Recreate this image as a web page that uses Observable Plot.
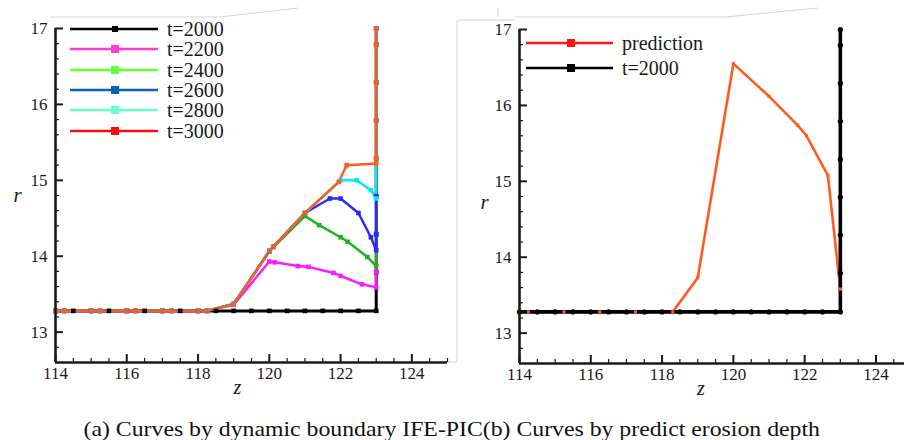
<!DOCTYPE html>
<html><head><meta charset="utf-8">
<script src="https://cdn.jsdelivr.net/npm/d3@7"></script>
<script src="https://cdn.jsdelivr.net/npm/@observablehq/plot@0.6"></script>
<style>
body{margin:0;background:#fff;}
#wrap{position:relative;width:904px;height:440px;overflow:hidden;background:#fff;font-family:"Liberation Serif","Times New Roman",serif;}
.panel{position:absolute;top:0;}
#leg{position:absolute;left:0;top:0;pointer-events:none;}
#caption{position:absolute;left:0;width:904px;top:418px;text-align:center;font-size:22px;color:#111;line-height:1;white-space:nowrap;transform:scaleX(1.08);transform-origin:455px 0;}
</style></head><body>
<div id="wrap">
<svg id="frame" width="904" height="440" style="position:absolute;left:0;top:0"></svg>
<div id="left" class="panel" style="left:0px"></div>
<div id="right" class="panel" style="left:464px"></div>
<svg id="leg" width="904" height="440"></svg>
<div id="caption">(a) Curves by dynamic boundary IFE-PIC(b) Curves by predict erosion depth</div>
</div>
<script>
// ---------- data ----------
const xMajor = [114, 116, 118, 120, 122, 124];
const xMinor = [114.5, 115, 115.5, 116.5, 117, 117.5, 118.5, 119, 119.5, 120.5, 121, 121.5, 122.5, 123, 123.5, 124.5, 125];
const yMajor = [13, 14, 15, 16, 17];
const yMinor = [12.8, 13.2, 13.4, 13.6, 13.8, 14.2, 14.4, 14.6, 14.8, 15.2, 15.4, 15.6, 15.8, 16.2, 16.4, 16.6, 16.8];

const t2000Z = [114, 114.5, 115, 115.5, 116, 116.5, 117, 117.5, 118, 118.5, 119, 119.5, 120, 120.5, 121, 121.5, 122, 122.5, 123, 123, 123, 123, 123, 123, 123, 123, 123];
const t2000R = [13.28, 13.28, 13.28, 13.28, 13.28, 13.28, 13.28, 13.28, 13.28, 13.28, 13.28, 13.28, 13.28, 13.28, 13.28, 13.28, 13.28, 13.28, 13.28, 13.79, 14.29, 14.79, 15.29, 15.79, 16.29, 16.79, 17.0];

const t2200Z = [114, 114.25, 115, 115.25, 116, 116.25, 117, 117.25, 118, 118.25, 119, 120, 120.15, 120.8, 121.1, 121.8, 122, 122.6, 123, 123, 123, 123, 123, 123, 123, 123, 123];
const t2200R = [13.28, 13.28, 13.28, 13.28, 13.28, 13.28, 13.28, 13.28, 13.28, 13.28, 13.36, 13.93, 13.92, 13.87, 13.86, 13.78, 13.74, 13.63, 13.59, 13.79, 14.29, 14.79, 15.29, 15.79, 16.29, 16.79, 17.0];

const t2400Z = [114, 114.25, 115, 115.25, 116, 116.25, 117, 117.25, 118, 118.25, 119, 120, 120.12, 121, 121.4, 122, 122.2, 122.75, 123, 123, 123, 123, 123, 123, 123, 123];
const t2400R = [13.28, 13.28, 13.28, 13.28, 13.28, 13.28, 13.28, 13.28, 13.28, 13.28, 13.37, 14.06, 14.12, 14.53, 14.41, 14.25, 14.19, 13.99, 13.87, 14.29, 14.79, 15.29, 15.79, 16.29, 16.79, 17.0];

const t2600Z = [114, 114.25, 115, 115.25, 116, 116.25, 117, 117.25, 118, 118.25, 119, 120, 120.12, 121, 121.7, 122, 122.5, 122.85, 123, 123, 123, 123, 123, 123, 123, 123];
const t2600R = [13.28, 13.28, 13.28, 13.28, 13.28, 13.28, 13.28, 13.28, 13.28, 13.28, 13.37, 14.07, 14.13, 14.57, 14.76, 14.76, 14.57, 14.25, 14.08, 14.29, 14.79, 15.29, 15.79, 16.29, 16.79, 17.0];

const t2800Z = [114, 114.25, 115, 115.25, 116, 116.25, 117, 117.25, 118, 118.25, 119, 120, 120.12, 121, 122, 122.45, 122.85, 123, 123, 123, 123, 123, 123];
const t2800R = [13.28, 13.28, 13.28, 13.28, 13.28, 13.28, 13.28, 13.28, 13.28, 13.28, 13.37, 14.07, 14.13, 14.57, 15.0, 15.0, 14.87, 14.76, 15.29, 15.79, 16.29, 16.79, 17.0];

const t3000Z = [114, 114.25, 115, 115.25, 116, 116.25, 117, 117.25, 118, 118.25, 119, 120, 120.12, 121, 121.95, 122.17, 123, 123, 123, 123, 123, 123];
const t3000R = [13.28, 13.28, 13.28, 13.28, 13.28, 13.28, 13.28, 13.28, 13.28, 13.28, 13.37, 14.07, 14.13, 14.57, 14.98, 15.2, 15.22, 15.29, 15.79, 16.29, 16.79, 17.0];

const predZ = [114, 114.25, 115.25, 116.25, 117.25, 118.3, 119, 120, 121, 121.8, 122.05, 122.65, 123];
const predR = [13.28, 13.28, 13.28, 13.28, 13.28, 13.28, 13.73, 16.55, 16.12, 15.74, 15.6, 15.08, 13.58];

const leftLabels = ["t=2000", "t=2200", "t=2400", "t=2600", "t=2800", "t=3000"];
const leftLineColors = ["#000000", "#ff1aff", "#1fb31f", "#2a2aff", "#00ecf5", "#ff5a1f"];
const leftLegendColors = ["#000000", "#ff3ccf", "#66ff33", "#0a62b4", "#66ffcc", "#ff0a0a"];
const rightLabels = ["prediction", "t=2000"];
const rightLineColors = ["#ff5a1f", "#000000"];
const rightLegendColors = ["#ff1414", "#000000"];

// ---------- build ----------
const toRows = (Z, R) => Z.map((z, i) => ({z, r: R[i]}));
const leftSeries = [[t2000Z, t2000R], [t2200Z, t2200R], [t2400Z, t2400R], [t2600Z, t2600R], [t2800Z, t2800R], [t3000Z, t3000R]].map(([Z, R]) => toRows(Z, R));
const predRows = toRows(predZ, predR);
const blackRows = toRows(t2000Z, t2000R);

const FONT = '"Liberation Serif","Times New Roman",serif';
const INK = "#1a1a1a";

function axisMarks(fw, fh, zx, zy, rx, ry) {
  return [
    Plot.axisX({ticks: xMajor, tickSize: 0, tickPadding: 4, label: null, fontSize: 17, tickFormat: d => String(d)}),
    Plot.axisY({ticks: yMajor, tickSize: 0, tickPadding: 8, label: null, fontSize: 17, tickFormat: d => String(d)}),
    Plot.tickX(xMajor, {x: d => d, insetTop: fh - 8, stroke: INK, strokeWidth: 2}),
    Plot.tickX(xMinor, {x: d => d, insetTop: fh - 4, stroke: INK, strokeWidth: 1.2}),
    Plot.tickY(yMajor, {y: d => d, insetRight: fw - 8, stroke: INK, strokeWidth: 2}),
    Plot.tickY(yMinor, {y: d => d, insetRight: fw - 4, stroke: INK, strokeWidth: 1.2}),
    Plot.text(["z"], {text: d => d, frameAnchor: "bottom", dx: zx, dy: zy, fontStyle: "italic", fontSize: 20, fill: INK}),
    Plot.text(["r"], {text: d => d, frameAnchor: "left", dx: rx, dy: ry, fontStyle: "italic", fontSize: 21, fill: INK})
  ];
}

// Left panel
{
  const W = 452, H = 400, mL = 55, mR = 5, mT = 28, mB = 38;
  const fw = W - mL - mR, fh = H - mT - mB;
  const marks = [];
  leftSeries.forEach((rows, i) => marks.push(Plot.line(rows, {x: "z", y: "r", stroke: leftLineColors[i], strokeWidth: i === 0 ? 3 : 2.5, strokeLinejoin: "miter"})));
  leftSeries.forEach((rows, i) => marks.push(Plot.dot(rows, {x: "z", y: "r", symbol: "square", r: 2.6, fill: leftLineColors[i], stroke: "none"})));
  marks.push(Plot.ruleY([12.6], {stroke: INK, strokeWidth: 2.6}));
  marks.push(Plot.ruleX([114], {stroke: INK, strokeWidth: 2.6}));
  marks.push(...axisMarks(fw, fh, -14, 31, -42, 0));
  const chart = Plot.plot({
    width: W, height: H, marginLeft: mL, marginRight: mR, marginTop: mT, marginBottom: mB,
    x: {domain: [114, 125]}, y: {domain: [12.6, 17]},
    style: {fontFamily: FONT, fontSize: "17px", color: INK, background: "transparent", overflow: "visible"},
    marks
  });
  document.getElementById("left").appendChild(chart);
}

// Right panel
{
  const W = 440, H = 400, mL = 55, mR = 0, mT = 29, mB = 37;
  const fw = W - mL - mR, fh = H - mT - mB;
  const marks = [
    Plot.line(predRows, {x: "z", y: "r", stroke: rightLineColors[0], strokeWidth: 2.6, strokeLinejoin: "miter"}),
    Plot.line(blackRows, {x: "z", y: "r", stroke: rightLineColors[1], strokeWidth: 3.6}),
    Plot.dot(predRows, {x: "z", y: "r", symbol: "square", r: 1.8, fill: rightLineColors[0], stroke: "none"}),
    Plot.dot(blackRows, {x: "z", y: "r", symbol: "circle", r: 2.6, fill: "#000", stroke: "none"}),
    Plot.ruleY([12.6], {stroke: INK, strokeWidth: 2.6}),
    Plot.ruleX([114], {stroke: INK, strokeWidth: 2.6}),
    ...axisMarks(fw, fh, -11, 31, -39, 6)
  ];
  const chart = Plot.plot({
    width: W, height: H, marginLeft: mL, marginRight: mR, marginTop: mT, marginBottom: mB,
    x: {domain: [114, 124.8]}, y: {domain: [12.6, 17]},
    style: {fontFamily: FONT, fontSize: "17px", color: INK, background: "transparent", overflow: "visible"},
    marks
  });
  document.getElementById("right").appendChild(chart);
}

// Faint outer frame remnants of the original figure panels
{
  const f = d3.select("#frame");
  const segs = [
    [50, 17, 220, 17], [220, 17, 298, 8],
    [457, 20, 457, 362], [440, 362, 457, 362],
    [458, 20, 515, 20], [515, 17, 725, 17], [725, 17, 818, 8], [498, 8, 498, 17]
  ];
  segs.forEach(([x1, y1, x2, y2]) => f.append("line").attr("x1", x1).attr("y1", y1).attr("x2", x2).attr("y2", y2)
    .attr("stroke", "#d4d4d4").attr("stroke-width", 1));
}

// Legends
{
  const svg = d3.select("#leg");
  function legend(x0, x1, xm, xt, ys, labels, colors, sizes) {
    labels.forEach((lab, i) => {
      const g = svg.append("g");
      g.append("line").attr("x1", x0).attr("x2", x1).attr("y1", ys[i]).attr("y2", ys[i])
        .attr("stroke", colors[i]).attr("stroke-width", 2.5);
      const s = sizes[i];
      g.append("rect").attr("x", xm - s / 2).attr("y", ys[i] - s / 2).attr("width", s).attr("height", s).attr("fill", colors[i]);
      g.append("text").attr("x", xt).attr("y", ys[i]).attr("dy", "0.35em")
        .attr("font-family", FONT).attr("font-size", 20).attr("fill", INK).text(lab);
    });
  }
  legend(70, 158, 115, 167, [29, 49, 70, 90, 110, 131], leftLabels, leftLegendColors, [6, 8, 8, 8, 8, 8]);
  legend(526, 613, 571, 622, [43, 68], rightLabels, rightLegendColors, [8, 8]);
}
</script>
</body></html>
